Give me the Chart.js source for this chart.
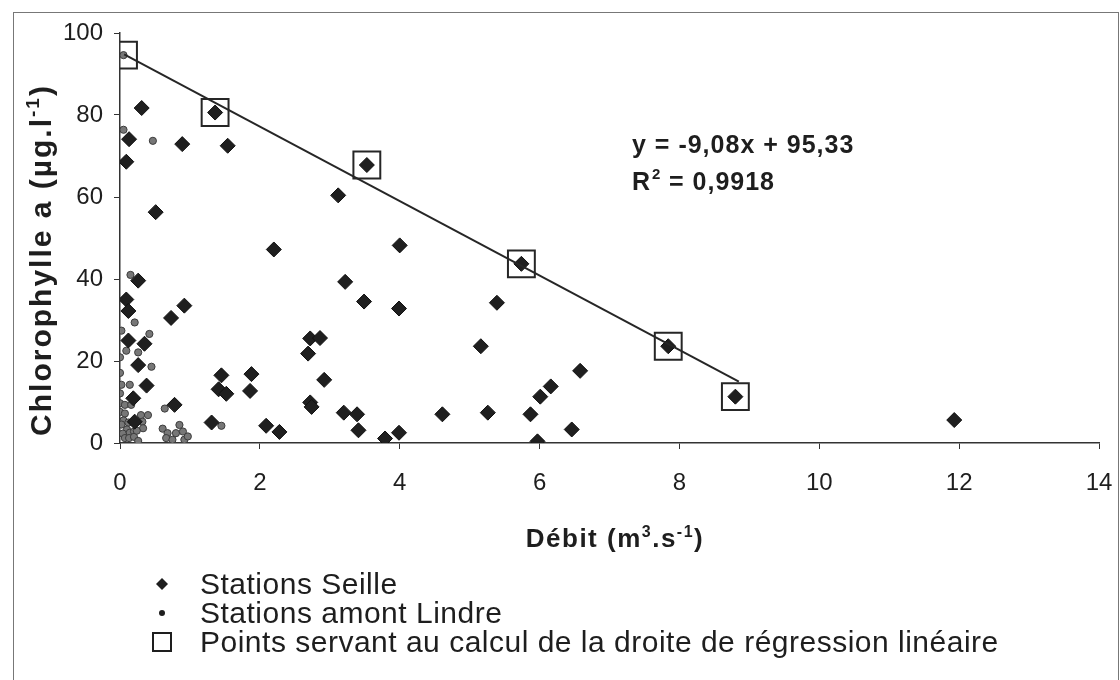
<!DOCTYPE html>
<html>
<head>
<meta charset="utf-8">
<script src="https://cdn.jsdelivr.net/npm/chart.js@4.4.0/dist/chart.umd.min.js"></script>
<style>
  body { margin: 0; background: #fff; }
  #wrap { width: 1120px; height: 680px; }
</style>
</head>
<body>
<div id="wrap"><canvas id="debitChart" width="1120" height="680"></canvas></div>
<script>
// Stations Seille (débit m3/s, chlorophylle a µg/l)
const seilleX = [0.31, 0.13, 0.89, 1.54, 0.09, 0.51, 3.12, 2.20, 4.00, 0.26, 0.09, 0.12, 0.92, 0.73, 0.12, 0.35, 0.26, 0.38, 0.19, 0.21,
                 0.78, 1.45, 1.88, 1.41, 1.52, 1.86, 1.31, 2.09, 2.28, 3.22, 3.49, 3.99, 5.39, 5.16, 2.72, 2.86, 2.69, 2.92, 2.72, 2.74,
                 3.20, 3.39, 3.41, 3.79, 3.99, 4.61, 5.26, 5.87, 5.97, 6.01, 6.16, 6.58, 6.46, 11.93, 1.36, 3.53, 5.74, 7.84, 8.80];
const seilleY = [81.7, 74.1, 72.9, 72.5, 68.6, 56.3, 60.4, 47.2, 48.2, 39.6, 35.0, 32.2, 33.5, 30.5, 25.0, 24.2, 19.0, 14.0, 10.9, 5.2,
                 9.3, 16.5, 16.8, 13.1, 12.0, 12.7, 5.0, 4.2, 2.7, 39.3, 34.5, 32.8, 34.2, 23.6, 25.5, 25.6, 21.8, 15.4, 9.9, 8.8,
                 7.4, 7.0, 3.1, 1.1, 2.5, 7.0, 7.4, 7.0, 0.4, 11.3, 13.8, 17.6, 3.3, 5.6, 80.6, 67.8, 43.7, 23.6, 11.3];

// Stations amont Lindre
const lindreX = [0.05, 0.05, 0.47, 0.15, 0.21, 0.02, 0.42, 0.09, 0.26, 0.00, 0.45, 0.00, 0.02, 0.14, 0.00, 0.00, 0.07, 0.16, 0.00, 0.07,
                 0.30, 0.40, 0.05, 0.02, 0.12, 0.32, 0.33, 0.10, 0.04, 0.14, 0.20, 0.07, 0.13, 0.20, 0.64, 0.61, 0.85, 0.68, 0.80, 0.90,
                 0.66, 0.75, 0.92, 0.97, 1.45, 0.26, 0.24];
const lindreY = [94.6, 76.4, 73.7, 41.0, 29.4, 27.4, 26.6, 22.5, 22.1, 20.9, 18.6, 17.1, 14.2, 14.2, 12.1, 9.7, 9.3, 9.3, 7.6, 7.2,
                 6.8, 6.8, 5.5, 4.5, 5.0, 5.2, 3.6, 3.3, 2.3, 2.5, 2.8, 1.2, 1.2, 1.5, 8.4, 3.5, 4.4, 2.4, 2.4, 2.8,
                 1.2, 0.8, 0.8, 1.6, 4.2, 0.5, 3.0];

// points retenus pour la régression
const regX = [0.05, 1.36, 3.53, 5.74, 7.84, 8.80];
const regY = [94.6, 80.6, 67.8, 43.7, 23.6, 11.3];

// droite y = a x + b
const slope = -9.08;
const intercept = 95.33;
const r2 = '0,9918';
const lineX = [0.06, 8.85];

const legendLabels = ['Stations Seille', 'Stations amont Lindre', 'Points servant au calcul de la droite de régression linéaire'];

const toPts = (xs, ys) => xs.map((x, i) => ({ x: x, y: ys[i] }));

const FONT = '"Liberation Sans", Arial, sans-serif';
const INK = '#1e1e1e';

// draws text made of normal and superscript pieces, centred on x
function drawRich(ctx, parts, x, y, size, weight, spacing) {
  ctx.letterSpacing = spacing + 'px';
  let w = 0;
  parts.forEach(p => {
    ctx.font = weight + ' ' + (p.sup ? Math.round(size * 0.62) : size) + 'px ' + FONT;
    p.w = ctx.measureText(p.t).width;
    w += p.w;
  });
  let cx = x - w / 2;
  parts.forEach(p => {
    ctx.font = weight + ' ' + (p.sup ? Math.round(size * 0.62) : size) + 'px ' + FONT;
    ctx.fillText(p.t, cx, p.sup ? y - size * 0.4 : y);
    cx += p.w;
  });
  ctx.letterSpacing = '0px';
}

const annotations = {
  id: 'annotations',
  beforeDraw(chart) {
    const ctx = chart.ctx;
    ctx.save();
    ctx.fillStyle = '#fff';
    ctx.fillRect(0, 0, chart.width, chart.height);
    ctx.restore();
  },
  afterDraw(chart) {
    const ctx = chart.ctx;
    ctx.save();

    // cadre
    ctx.strokeStyle = '#777';
    ctx.lineWidth = 1;
    ctx.strokeRect(13.5, 12.5, 1105, 700);

    ctx.fillStyle = INK;
    ctx.textAlign = 'left';
    ctx.textBaseline = 'alphabetic';

    // titre axe X
    drawRich(ctx, [{ t: 'Débit (m' }, { t: '3', sup: true }, { t: '.s' }, { t: '-1', sup: true }, { t: ')' }],
      615, 547, 26, 'bold', 1.5);

    // titre axe Y
    ctx.save();
    ctx.translate(51, 260);
    ctx.rotate(-Math.PI / 2);
    drawRich(ctx, [{ t: 'Chlorophylle a (µg.l' }, { t: '-1', sup: true }, { t: ')' }], 0, 0, 30, 'bold', 2);
    ctx.restore();

    // équation de la droite
    const eq = 'y = ' + String(slope).replace('.', ',') + 'x + ' + String(intercept).replace('.', ',');
    ctx.letterSpacing = '1px';
    ctx.font = 'bold 25px ' + FONT;
    ctx.fillText(eq, 632, 153);
    ctx.fillText('R', 632, 190);
    const rw = ctx.measureText('R').width;
    ctx.font = 'bold 15px ' + FONT;
    ctx.fillText('2', 632 + rw + 1, 179);
    ctx.font = 'bold 25px ' + FONT;
    ctx.fillText(' = ' + r2, 632 + rw + 10, 190);

    // légende
    const rows = [594, 623, 652];
    ctx.font = '30px ' + FONT;
    ctx.letterSpacing = '0.5px';
    legendLabels.forEach((lab, i) => {
      const my = rows[i] - 10;
      ctx.fillStyle = INK;
      if (i === 0) {
        ctx.beginPath();
        ctx.moveTo(162, my - 6); ctx.lineTo(168, my); ctx.lineTo(162, my + 6); ctx.lineTo(156, my);
        ctx.closePath();
        ctx.fill();
      } else if (i === 1) {
        ctx.beginPath();
        ctx.arc(162, my, 3, 0, Math.PI * 2);
        ctx.fill();
      } else {
        ctx.strokeStyle = INK;
        ctx.lineWidth = 2;
        ctx.strokeRect(153, my - 9, 18, 18);
      }
      ctx.fillText(lab, 200, rows[i]);
    });
    ctx.restore();
  }
};

new Chart(document.getElementById('debitChart'), {
  type: 'scatter',
  data: {
    datasets: [
      {
        type: 'line',
        label: 'droite',
        data: toPts(lineX, lineX.map(x => slope * x + intercept)),
        borderColor: '#262626',
        borderWidth: 2,
        pointRadius: 0,
        order: 1
      },
      {
        label: legendLabels[2],
        data: toPts(regX, regY),
        pointStyle: 'rect',
        pointRadius: 19,
        pointHoverRadius: 19,
        backgroundColor: 'rgba(0,0,0,0)',
        borderColor: '#262626',
        borderWidth: 2,
        order: 2
      },
      {
        label: legendLabels[0],
        data: toPts(seilleX, seilleY),
        pointStyle: 'rectRot',
        pointRadius: 7.5,
        pointHoverRadius: 7.5,
        backgroundColor: '#1f1f1f',
        borderColor: '#111',
        borderWidth: 1,
        order: 3
      },
      {
        label: legendLabels[1],
        data: toPts(lindreX, lindreY),
        pointStyle: 'circle',
        pointRadius: 3.6,
        pointHoverRadius: 3.6,
        backgroundColor: '#777',
        borderColor: '#3c3c3c',
        borderWidth: 1,
        order: 4
      }
    ]
  },
  options: {
    responsive: false,
    animation: false,
    events: [],
    layout: { padding: { top: 33, right: 12, left: 0, bottom: 0 } },
    plugins: {
      legend: { display: false },
      tooltip: { enabled: false }
    },
    scales: {
      x: {
        type: 'linear',
        min: 0,
        max: 14,
        afterFit(scale) {
          scale.height = 237;
          scale.paddingRight = 0;
          scale.paddingLeft = 0;
        },
        border: { color: '#333', width: 1.5 },
        grid: { drawOnChartArea: false, tickLength: 6, color: '#333' },
        ticks: { stepSize: 2, padding: 20, color: INK, font: { family: FONT, size: 24 } }
      },
      y: {
        type: 'linear',
        min: 0,
        max: 100,
        afterFit(scale) { scale.width = 120; },
        border: { color: '#333', width: 1.5 },
        grid: { drawOnChartArea: false, tickLength: 6, color: '#333' },
        ticks: { stepSize: 20, padding: 11, color: INK, font: { family: FONT, size: 24 } }
      }
    }
  },
  plugins: [annotations]
});
</script>
</body>
</html>
